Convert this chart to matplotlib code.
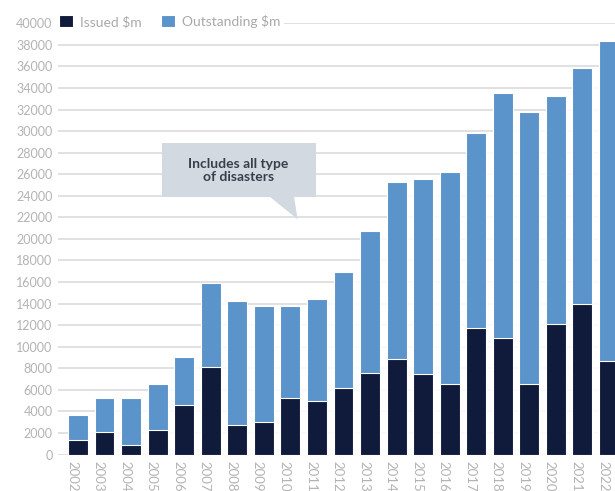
import matplotlib
matplotlib.use("Agg")
import matplotlib.pyplot as plt
from matplotlib.patches import Rectangle, Polygon

plt.rcParams['font.family'] = ['Lato', 'DejaVu Sans']

years = [str(y) for y in range(2002, 2023)]
issued = [1350, 2050, 850, 2250, 4550, 8100, 2750, 3050, 5250, 4950, 6150,
          7550, 8900, 7450, 6550, 11700, 10800, 6500, 12150, 13950, 8700]
outstanding = [3650, 5200, 5250, 6550, 9000, 15900, 14250, 13800, 13800, 14400, 16900,
               20750, 25300, 25600, 26250, 29800, 33500, 31800, 33300, 35850, 38350]
yticks = list(range(0, 40001, 2000))

navy = '#101a3a'
blue = '#5b93cb'
grid_c = '#d9d9d9'
text_c = '#b3b3b3'
bw = 0.75

fig = plt.figure(figsize=(6.15, 4.91), dpi=100)
ax = fig.add_axes([58 / 615, 36.5 / 491, 557 / 615, 431.2 / 491])

x = list(range(len(years)))

# grid lines behind the bars
for t in yticks:
    ax.axhline(t, color=grid_c, lw=1.1, zorder=0)

# white gaps between neighbouring bars hide the grid where both bars are taller
for i in range(len(x) - 1):
    h = min(outstanding[i], outstanding[i + 1])
    ax.add_patch(Rectangle((x[i] + bw / 2, -500), 1 - bw, h + 500,
                           facecolor='white', edgecolor='none', alpha=0.85, zorder=1))

b1 = ax.bar(x, issued, width=bw, color=navy, edgecolor='white', lw=0.8, zorder=3, label='Issued $m')
b2 = ax.bar(x, outstanding, width=bw, color=blue, edgecolor='white', lw=0.8, zorder=2, label='Outstanding $m')

ax.set_xlim(-0.753, 20.226)
ax.set_ylim(0, 40000)
ax.set_yticks(yticks)
ax.set_yticklabels([str(t) for t in yticks])
ax.set_xticks(x)
ax.set_xticklabels(years, rotation=270, ha='right', va='top')
ax.tick_params(axis='y', length=0, pad=4, labelsize=9, labelcolor=text_c)
ax.tick_params(axis='x', length=0, pad=5, labelsize=9.5, labelcolor=text_c)
for s in ax.spines.values():
    s.set_visible(False)

leg = ax.legend(handles=[b1, b2], loc='center left', ncol=2,
                bbox_to_anchor=(55 / 615, 1 - 21.5 / 491), bbox_transform=fig.transFigure,
                frameon=True, facecolor='white', edgecolor='none', framealpha=1,
                fontsize=10, handlelength=1.0, handleheight=1.0, handletextpad=0.5,
                columnspacing=1.4, borderpad=0.3, borderaxespad=0, fancybox=False)
for t in leg.get_texts():
    t.set_color('#a9a9a9')
leg.set_zorder(5)

# callout box
box_c = '#d2d9e1'
ax.add_patch(Rectangle((3.15, 23860), 8.95 - 3.15, 28900 - 23860,
                       facecolor=box_c, edgecolor='none', zorder=4))
ax.add_patch(Polygon([(7.23, 23900), (8.14, 23900), (8.27, 21820)], closed=True,
                     facecolor=box_c, edgecolor='none', zorder=4))
ax.text(6.03, 26350, 'Includes all type\nof disasters', ha='center', va='center',
        fontsize=10, fontweight='bold', color='#383f4a', linespacing=1.15, zorder=5)

fig.savefig('out.png', dpi=100)
